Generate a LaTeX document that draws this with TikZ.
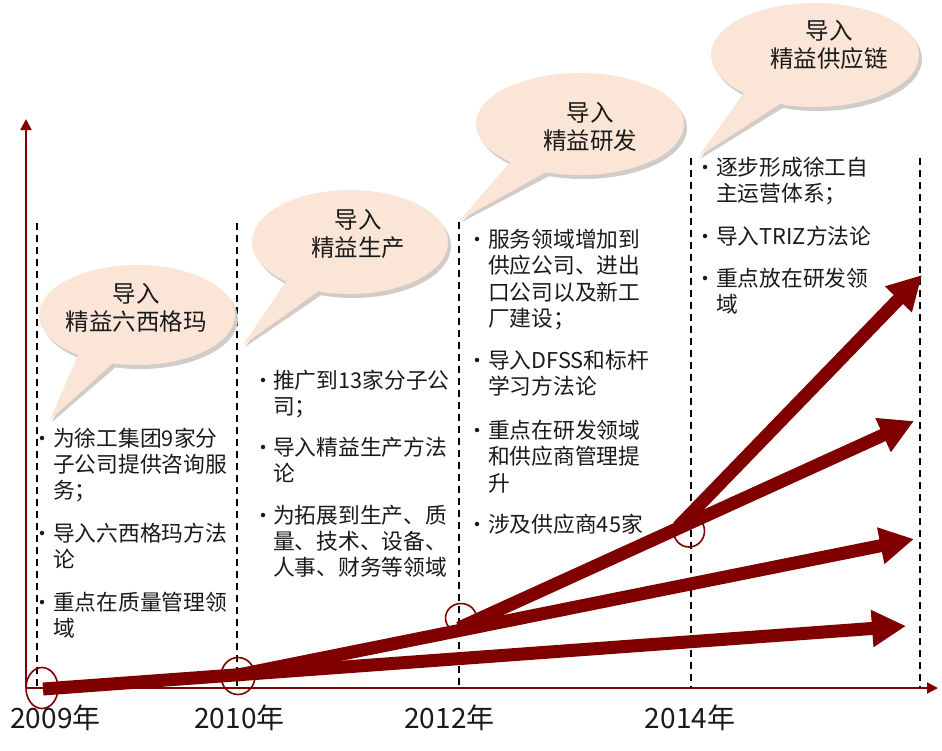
\documentclass[tikz,border=0pt]{standalone}
\usepackage{fontspec}
\setmainfont{Noto Sans CJK SC}
\usetikzlibrary{arrows.meta,shapes.geometric}
\definecolor{dred}{HTML}{800000}
\definecolor{peach}{HTML}{FBE5D6}
\definecolor{shd}{HTML}{D2CCC8}
\definecolor{ink}{HTML}{1A1A1A}
\newcommand\Tline[4]{\node[btxt] (#1) at (#2,#3) {#4};}
\newcommand\Bdot[3]{\node[bdot] (#1) at (#2,#3) {};}
\begin{document}
\begin{tikzpicture}[x=1pt,y=-1pt,
  axis/.style={draw=dred, line width=2pt, -{Triangle[length=11pt,width=11pt]}},
  guide/.style={draw=black, line width=2.2pt, dash pattern=on 7pt off 5pt},
  ring/.style={draw=dred, line width=1.6pt, ellipse, inner sep=0pt},
  growth/.style={draw=dred, line width=13pt, -{Triangle[length=34pt,width=35pt]}},
  btxt/.style={font=\fontsize{21.75}{26}\selectfont, inner sep=0pt, anchor=base west, text=ink},
  ttl/.style={font=\fontsize{23.5}{28}\selectfont, inner sep=0pt, anchor=base, text=ink},
  yr/.style={font=\fontsize{28}{30}\selectfont, inner sep=0pt, anchor=base, text=ink},
  bdot/.style={circle, fill=ink, inner sep=0pt, minimum size=4.5pt},
]
\useasboundingbox (0,0) rectangle (942,750);
\fill[white] (0,0) rectangle (942,750);

% axes
\coordinate (O) at (26,688);
\coordinate (ytop) at (26,119);
\coordinate (xend) at (938,688);
\draw[axis] (O) -- (ytop);
\draw[axis] (O) -- (xend);

% dashed guides
\foreach \n/\x/\t in {g1/37/223, g2/237/223, g3/459/222, g4/691/158, g5/920/158}{
  \coordinate (\n t) at (\x,\t);
  \coordinate (\n b) at (\x,688);
  \draw[guide] (\n t) -- (\n b);
}

% rings
\node[ring, minimum width=32pt, minimum height=41pt] (r1) at (42,688) {};
\node[ring, minimum width=34pt, minimum height=37pt] (r2) at (238,676) {};
\node[ring, minimum width=31pt, minimum height=29pt] (r3) at (461,618) {};
\node[ring, minimum width=31pt, minimum height=32pt] (r4) at (689,531) {};

% growth arrows
\coordinate (s1) at (43,689);  \coordinate (e1) at (906,626);
\coordinate (s2) at (238,675); \coordinate (e2) at (914,539);
\coordinate (s3) at (459,628); \coordinate (e3) at (914,421);
\coordinate (s4) at (678,527); \coordinate (e4) at (922,275);
\draw[growth] (s1) -- (e1);
\draw[growth] (s2) -- (e2);
\draw[growth] (s3) -- (e3);
\draw[growth] (s4) -- (e4);

% speech bubbles
\foreach \cx/\cy/\rx/\ry/\ax/\ay/\tx/\ty/\bx/\by in {
  137/315/98/50/80/350/50/420/114/362,
  350/242/98/52/287/280/243/345/320/290,
  580/124/104/51/512/160/460/220/548/171,
  815/55/104/52/745/91/698/157/783/102}{
  \fill[shd] (\cx+3,\cy+4) ellipse [x radius=\rx, y radius=\ry];
  \fill[shd] (\ax+3,\ay+4) -- (\tx+2,\ty+2) -- (\bx+3,\by+4) -- cycle;
  \fill[peach] (\cx,\cy) ellipse [x radius=\rx, y radius=\ry];
  \fill[peach] (\ax,\ay) -- (\tx,\ty) -- (\bx,\by) -- cycle;
}

% bubble titles
\node[ttl] (h1a) at (136,302) {导入};
\node[ttl] (h1b) at (136,330) {精益六西格玛};
\node[ttl] (h2a) at (358,228) {导入};
\node[ttl] (h2b) at (358,256) {精益生产};
\node[ttl] (h3a) at (590,121) {导入};
\node[ttl] (h3b) at (590,149) {精益研发};
\node[ttl] (h4a) at (829,39) {导入};
\node[ttl] (h4b) at (829,67) {精益供应链};

% column 1
\Bdot{d11}{42}{438}
\Tline{c11}{53}{446}{为徐工集团9家分}
\Tline{c12}{53}{472}{子公司提供咨询服}
\Tline{c13}{53}{498}{务；}
\Bdot{d12}{42}{533}
\Tline{c14}{53}{541}{导入六西格玛方法}
\Tline{c15}{53}{567}{论}
\Bdot{d13}{42}{602}
\Tline{c16}{53}{610}{重点在质量管理领}
\Tline{c17}{53}{636}{域}

% column 2
\Bdot{d21}{263}{380}
\Tline{c21}{273}{388}{推广到13家分子公}
\Tline{c22}{273}{414}{司；}
\Bdot{d22}{263}{447}
\Tline{c23}{273}{455}{导入精益生产方法}
\Tline{c24}{273}{481}{论}
\Bdot{d23}{263}{515}
\Tline{c25}{273}{523}{为拓展到生产、质}
\Tline{c26}{273}{549}{量、技术、设备、}
\Tline{c27}{273}{575}{人事、财务等领域}

% column 3
\Bdot{d31}{477}{239}
\Tline{c31}{488}{247}{服务领域增加到}
\Tline{c32}{488}{273.5}{供应公司、进出}
\Tline{c33}{488}{300}{口公司以及新工}
\Tline{c34}{488}{326.5}{厂建设；}
\Bdot{d32}{477}{360}
\Tline{c35}{488}{368}{导入DFSS和标杆}
\Tline{c36}{488}{394.5}{学习方法论}
\Bdot{d33}{477}{430}
\Tline{c37}{488}{438}{重点在研发领域}
\Tline{c38}{488}{464.5}{和供应商管理提}
\Tline{c39}{488}{491}{升}
\Bdot{d34}{477}{524}
\Tline{c3a}{488}{532}{涉及供应商45家}

% column 4
\Bdot{d41}{705}{167}
\Tline{c41}{716}{175}{逐步形成徐工自}
\Tline{c42}{716}{201.5}{主运营体系；}
\Bdot{d42}{705}{236}
\Tline{c43}{716}{244}{导入TRIZ方法论}
\Bdot{d43}{705}{278}
\Tline{c44}{716}{286}{重点放在研发领}
\Tline{c45}{716}{312.5}{域}

% years
\node[yr] (y1) at (55.5,728) {2009年};
\node[yr] (y2) at (239.5,728) {2010年};
\node[yr] (y3) at (449.5,728) {2012年};
\node[yr] (y4) at (690,728) {2014年};
\end{tikzpicture}
\end{document}
